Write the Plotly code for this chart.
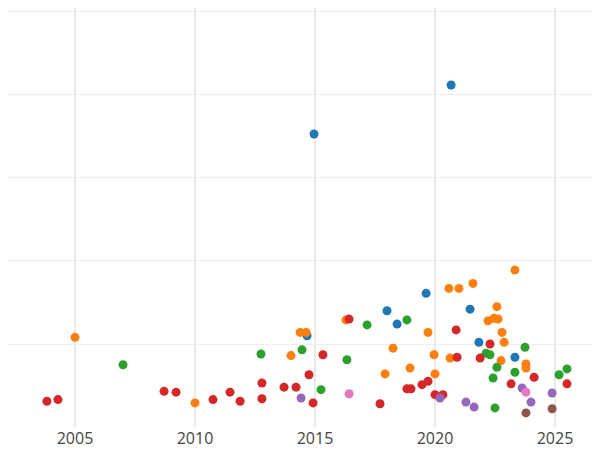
import plotly.graph_objects as go

blue_x = [2020.67, 2014.96, 2014.67, 2018.0, 2018.42, 2019.63, 2021.46, 2021.83, 2023.33]
blue_y = [4.12, 3.53, 1.10, 1.40, 1.24, 1.61, 1.42, 1.02, 0.84]

orange_x = [2005.0, 2010.0, 2014.0, 2014.38, 2014.63, 2016.29, 2017.92, 2018.25, 2018.96, 2019.71,
            2019.96, 2020.0, 2020.58, 2021.0, 2020.63, 2021.58, 2022.21, 2022.46, 2022.63, 2022.58,
            2022.79, 2022.75, 2022.88, 2023.33, 2023.79, 2023.79]
orange_y = [1.08, 0.29, 0.86, 1.14, 1.14, 1.29, 0.64, 0.95, 0.71, 1.14,
            0.87, 0.64, 1.67, 1.67, 0.83, 1.73, 1.28, 1.31, 1.30, 1.45,
            1.14, 0.80, 1.02, 1.89, 0.76, 0.71]

green_x = [2007.0, 2012.75, 2014.46, 2015.25, 2016.33, 2017.17, 2018.83, 2022.13, 2022.29, 2022.42,
           2022.58, 2022.5, 2023.33, 2023.75, 2025.17, 2025.5]
green_y = [0.75, 0.88, 0.93, 0.45, 0.81, 1.23, 1.29, 0.89, 0.87, 0.59,
           0.72, 0.23, 0.66, 0.96, 0.63, 0.70]

red_x = [2003.83, 2004.29, 2008.71, 2009.21, 2010.75, 2011.46, 2011.88, 2012.79, 2012.79, 2013.71,
         2014.21, 2014.75, 2014.92, 2015.33, 2016.42, 2017.71, 2018.83, 2019.0, 2019.46, 2019.71,
         2020.0, 2020.33, 2020.88, 2020.92, 2021.88, 2022.29, 2023.17, 2024.13, 2025.5]
red_y = [0.31, 0.33, 0.43, 0.42, 0.33, 0.42, 0.31, 0.53, 0.34, 0.48,
         0.48, 0.63, 0.29, 0.87, 1.30, 0.28, 0.46, 0.46, 0.51, 0.55,
         0.39, 0.39, 1.17, 0.84, 0.83, 1.00, 0.52, 0.60, 0.52]

purple_x = [2014.42, 2020.21, 2021.29, 2021.63, 2023.63, 2024.0, 2024.88]
purple_y = [0.35, 0.35, 0.30, 0.24, 0.47, 0.30, 0.41]

pink_x = [2016.42, 2023.79]
pink_y = [0.40, 0.42]

brown_x = [2023.79, 2024.88]
brown_y = [0.17, 0.22]

series = [
    (blue_x, blue_y, "#1f77b4"),
    (orange_x, orange_y, "#ff7f0e"),
    (green_x, green_y, "#2ca02c"),
    (red_x, red_y, "#d62728"),
    (purple_x, purple_y, "#9467bd"),
    (pink_x, pink_y, "#e377c2"),
    (brown_x, brown_y, "#8c564b"),
]

fig = go.Figure()
for xs, ys, c in series:
    fig.add_trace(go.Scatter(x=xs, y=ys, mode="markers",
                             marker=dict(color=c, size=9), showlegend=False))

fig.update_layout(
    width=592, height=442,
    margin=dict(l=0, r=0, t=0, b=23),
    plot_bgcolor="white", paper_bgcolor="white",
    font=dict(family="Open Sans", color="#444", size=16),
)
fig.update_xaxes(range=[2002.208, 2026.875], tickvals=[2005, 2010, 2015, 2020, 2025],
                 showgrid=True, gridcolor="#e8e8e8", gridwidth=1.5, zeroline=False,
                 showline=False, ticks="")
fig.update_yaxes(range=[0.0, 5.048], tickvals=[1, 2, 3, 4, 5], showticklabels=False,
                 showgrid=True, gridcolor="#eeeeee", zeroline=False, showline=False)

fig.write_html("out.html")
